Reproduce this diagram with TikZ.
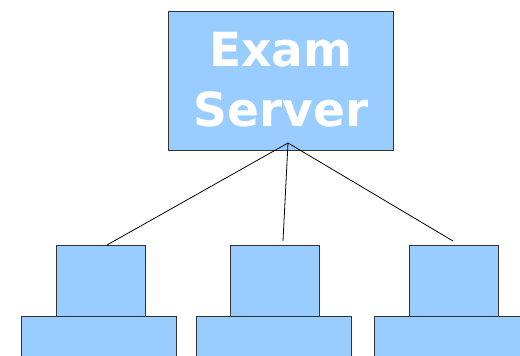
\documentclass[tikz,border=0pt]{standalone}
\usepackage{fontspec}
\setmainfont{DejaVu Sans}
\definecolor{boxblue}{HTML}{99CCFF}
\definecolor{edge}{HTML}{333333}
\begin{document}
\begin{tikzpicture}[x=1pt,y=1pt,
  box/.style={draw=edge,fill=boxblue,line width=0.9pt},
  wire/.style={draw=black,line width=0.8pt}]
\useasboundingbox (0,0) rectangle (520,356);
\clip (0,0) rectangle (520,356);
% server
\node[box,minimum width=225pt,minimum height=139pt,inner sep=0pt,anchor=north west] (server) at (168,345) {};
\node[text=white,font=\fontsize{47}{60}\selectfont\bfseries,align=center,inner sep=0pt] (label) at ([yshift=1.5pt]server.center) {Exam\\Server};
% monitors
\node[box,minimum width=89pt,minimum height=71pt,inner sep=0pt,anchor=north west] (m1) at (56,111) {};
\node[box,minimum width=155pt,minimum height=50pt,inner sep=0pt,anchor=north west] (b1) at (21,40) {};
\node[box,minimum width=89pt,minimum height=71pt,inner sep=0pt,anchor=north west] (m2) at (230,111) {};
\node[box,minimum width=155pt,minimum height=50pt,inner sep=0pt,anchor=north west] (b2) at (196,40) {};
\node[box,minimum width=89pt,minimum height=71pt,inner sep=0pt,anchor=north west] (m3) at (409,111) {};
\node[box,minimum width=155pt,minimum height=50pt,inner sep=0pt,anchor=north west] (b3) at (374,40) {};
% connectors
\coordinate (hub) at (288,213);
\coordinate (e1) at (107,111);
\coordinate (e2) at (283,115);
\coordinate (e3) at (453,115);
\draw[wire] (hub) -- (e1);
\draw[wire] (hub) -- (e2);
\draw[wire] (hub) -- (e3);
\end{tikzpicture}
\end{document}
